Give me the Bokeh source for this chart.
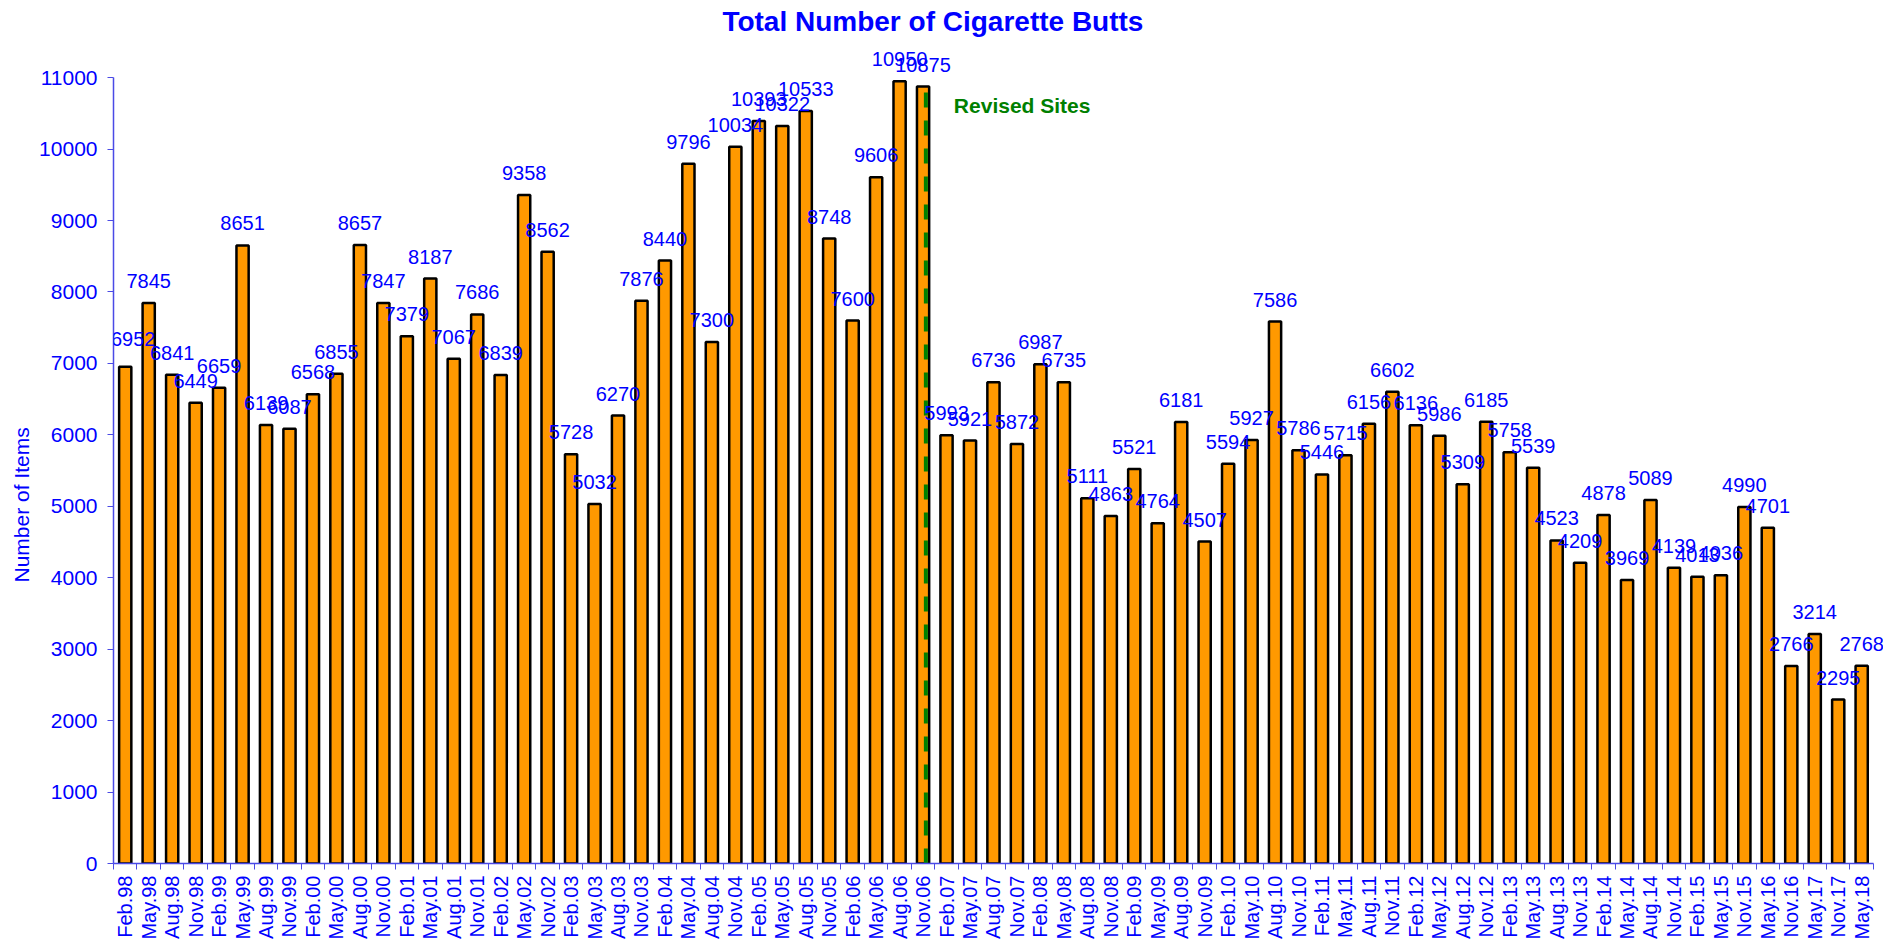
import math
from bokeh.plotting import figure
from bokeh.models import (ColumnDataSource, Range1d, FixedTicker, LabelSet, Label)
from bokeh.core.properties import value
from bokeh.embed import file_html
from bokeh.resources import INLINE

labels = ["Feb.98", "May.98", "Aug.98", "Nov.98", "Feb.99", "May.99", "Aug.99", "Nov.99",
          "Feb.00", "May.00", "Aug.00", "Nov.00", "Feb.01", "May.01", "Aug.01", "Nov.01",
          "Feb.02", "May.02", "Nov.02", "Feb.03", "May.03", "Aug.03", "Nov.03",
          "Feb.04", "May.04", "Aug.04", "Nov.04", "Feb.05", "May.05", "Aug.05", "Nov.05",
          "Feb.06", "May.06", "Aug.06", "Nov.06", "Feb.07", "May.07", "Aug.07", "Nov.07",
          "Feb.08", "May.08", "Aug.08", "Nov.08", "Feb.09", "May.09", "Aug.09", "Nov.09",
          "Feb.10", "May.10", "Aug.10", "Nov.10", "Feb.11", "May.11", "Aug.11", "Nov.11",
          "Feb.12", "May.12", "Aug.12", "Nov.12", "Feb.13", "May.13", "Aug.13", "Nov.13",
          "Feb.14", "May.14", "Aug.14", "Nov.14", "Feb.15", "May.15", "Nov.15",
          "May.16", "Nov.16", "May.17", "Nov.17", "May.18"]

values = [6952, 7845, 6841, 6449, 6659, 8651, 6139, 6087,
          6568, 6855, 8657, 7847, 7379, 8187, 7067, 7686,
          6839, 9358, 8562, 5728, 5032, 6270, 7876,
          8440, 9796, 7300, 10034, 10393, 10322, 10533, 8748,
          7600, 9606, 10950, 10875, 5993, 5921, 6736, 5872,
          6987, 6735, 5111, 4863, 5521, 4764, 6181, 4507,
          5594, 5927, 7586, 5786, 5446, 5715, 6156, 6602,
          6136, 5986, 5309, 6185, 5758, 5539, 4523, 4209,
          4878, 3969, 5089, 4139, 4013, 4036, 4990,
          4701, 2766, 3214, 2295, 2768]

y_ticks = [0, 1000, 2000, 3000, 4000, 5000, 6000, 7000, 8000, 9000, 10000, 11000]
revision_at = "Nov.06"

BLUE = "#0000FF"
AXIS = "#4a4ae6"
FONT = "Liberation Sans"

xs = list(range(len(labels)))
# the first value label is nudged so it stays inside the plot area (as in the original)
label_dx = [8 if i == 0 else 0 for i in xs]
label_dy = [21 if i == 0 else 15 for i in xs]
src = ColumnDataSource(dict(x=xs, top=values, lab=[str(v) for v in values],
                            dx=label_dx, dy=label_dy))

p = figure(width=1883, height=943, output_backend="svg", toolbar_location=None,
           x_range=Range1d(-0.5, len(labels) - 0.07), y_range=Range1d(y_ticks[0], 12080),
           min_border_left=113, min_border_right=0, min_border_top=0, min_border_bottom=80)

p.outline_line_color = None
p.xgrid.grid_line_color = None
p.ygrid.grid_line_color = None
p.background_fill_color = "white"
p.border_fill_color = "white"

p.vbar(x="x", top="top", bottom=0, width=0.52, source=src,
       fill_color="#FF9900", line_color="black", line_width=2.5)

p.add_layout(LabelSet(x="x", y="top", text="lab", source=src, y_offset="dy", x_offset="dx",
                      text_align="center", text_baseline="alphabetic",
                      text_font=value(FONT), text_font_size=value("20px"), text_color=BLUE))

# title (inside the top of the frame)
p.add_layout(Label(x=34.42, y=11780, text="Total Number of Cigarette Butts",
                   text_align="center", text_baseline="middle", text_font=FONT,
                   text_font_size="28px", text_font_style="bold", text_color=BLUE))

# x axis
p.xaxis.ticker = FixedTicker(ticks=xs, minor_ticks=[i - 0.5 for i in xs] + [xs[-1] + 0.5])
p.xaxis.bounds = (xs[0] - 0.5, xs[-1] + 0.5)
p.xaxis.major_label_overrides = {i: l for i, l in enumerate(labels)}
p.xaxis.major_label_orientation = math.pi / 2
p.xaxis.major_tick_line_color = None
p.xaxis.major_tick_out = 6
p.xaxis.minor_tick_line_color = AXIS
p.xaxis.minor_tick_out = 6
p.xaxis.minor_tick_in = 0
p.xaxis.major_label_standoff = 6
p.xaxis.axis_line_color = AXIS
p.xaxis.axis_line_width = 1.5
p.xaxis.major_label_text_font = FONT
p.xaxis.major_label_text_font_size = "20px"
p.xaxis.major_label_text_color = BLUE

# y axis
p.yaxis.ticker = FixedTicker(ticks=y_ticks)
p.yaxis.bounds = (y_ticks[0], y_ticks[-1])
p.yaxis.major_tick_out = 6
p.yaxis.major_tick_in = 0
p.yaxis.minor_tick_line_color = None
p.yaxis.major_tick_line_color = AXIS
p.yaxis.axis_line_color = AXIS
p.yaxis.axis_line_width = 1.5
p.yaxis.major_label_standoff = 10
p.yaxis.major_label_text_font = FONT
p.yaxis.major_label_text_font_size = "21px"
p.yaxis.major_label_text_color = BLUE
# non-breaking spaces push the visible title down, as in the original
p.yaxis.axis_label = "Number of Items" + "\u00a0" * 25
p.yaxis.axis_label_text_font = FONT
p.yaxis.axis_label_text_font_size = "21px"
p.yaxis.axis_label_text_font_style = "normal"
p.yaxis.axis_label_text_color = BLUE
p.yaxis.axis_label_standoff = 3

# revision marker
rx = labels.index(revision_at) + 0.12
p.segment(x0=[rx], y0=[y_ticks[0]], x1=[rx], y1=[y_ticks[-1] - 60], line_color="#008000",
          line_width=4, line_dash="15 13")
p.add_layout(Label(x=rx, y=10610, x_offset=28, text="Revised Sites",
                   text_baseline="middle", text_font=FONT, text_font_size="21px",
                   text_font_style="bold", text_color="#008000"))

open("out.html", "w").write(file_html(p, INLINE))
